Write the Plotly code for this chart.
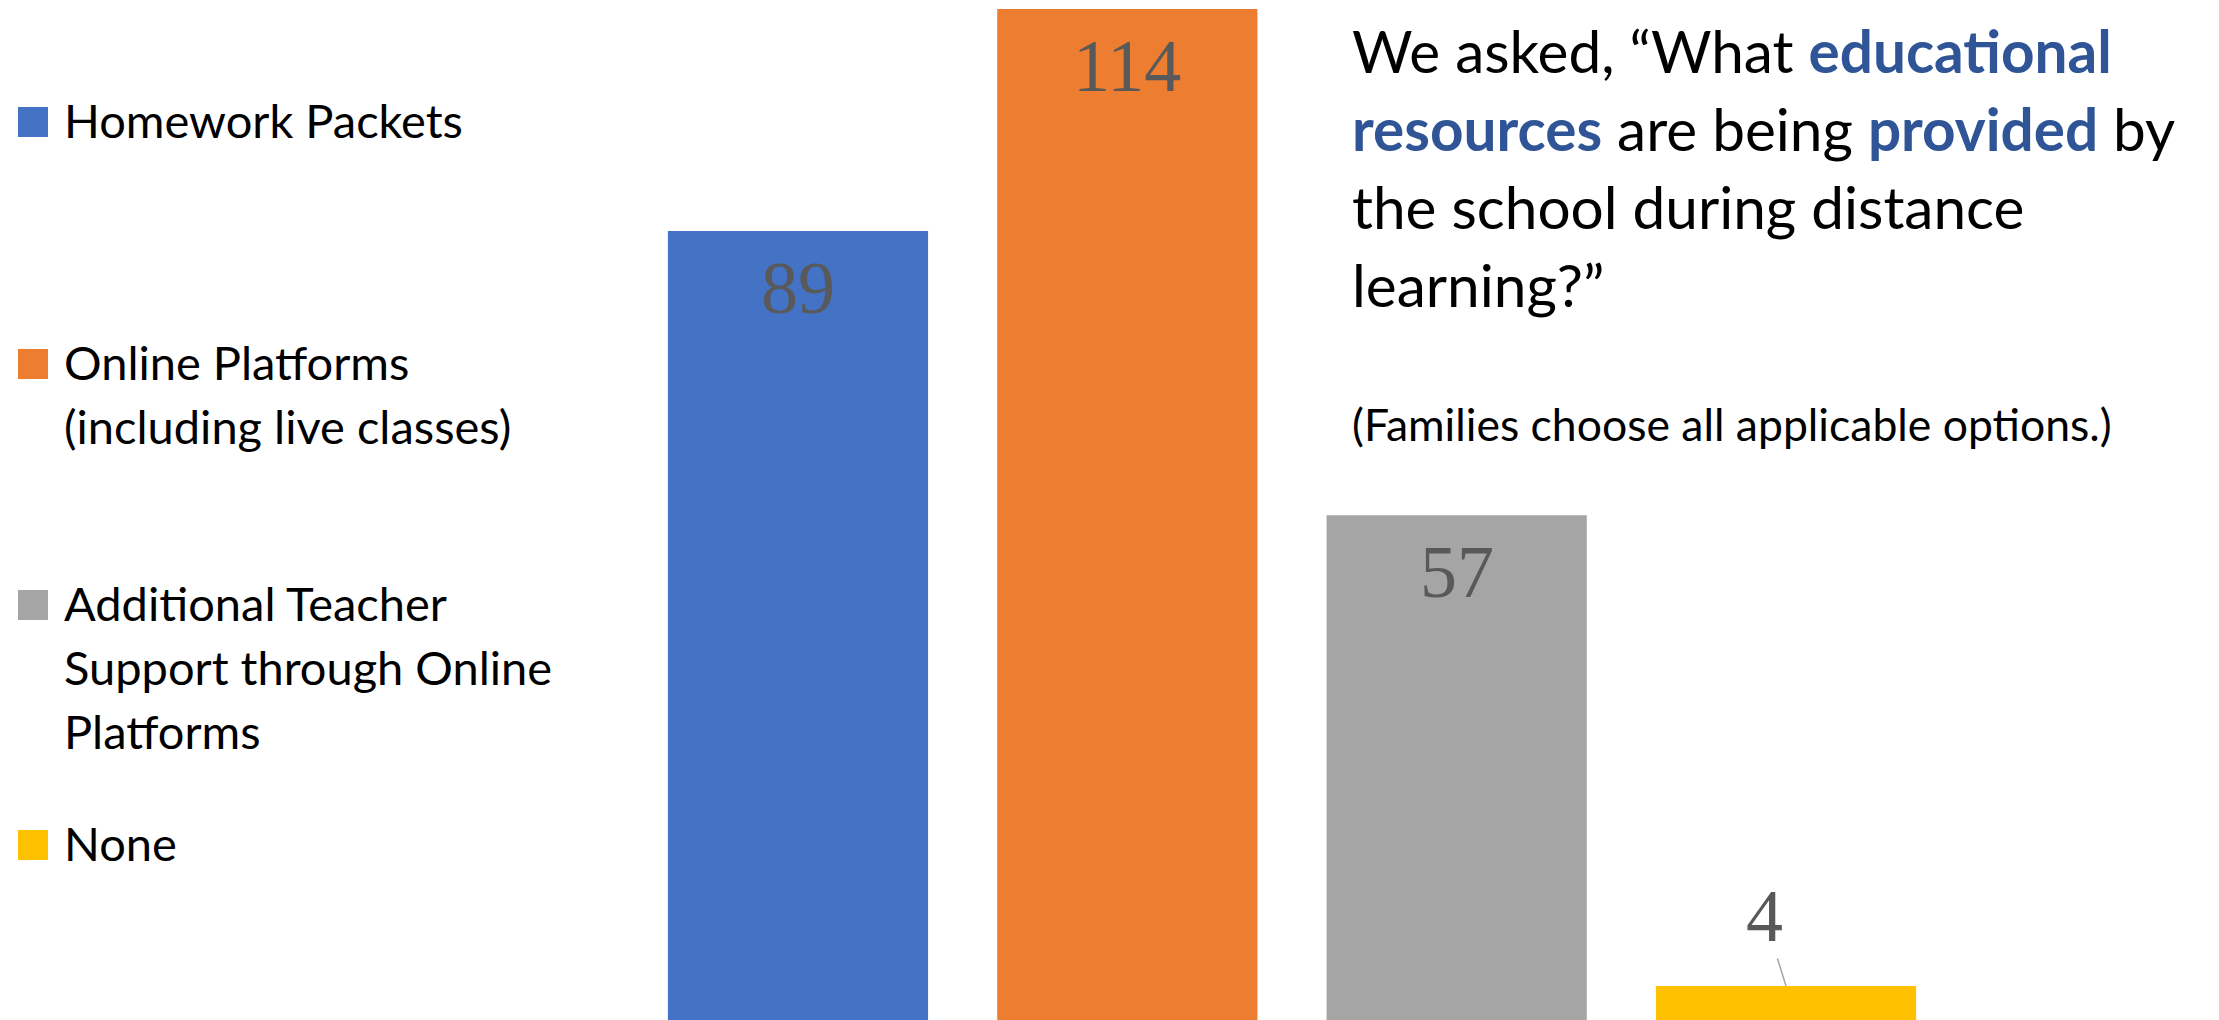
import plotly.graph_objects as go

# Survey answers: number of families selecting each resource type
categories = [
    "Homework Packets",
    "Online Platforms<br>(including live classes)",
    "Additional Teacher<br>Support through Online<br>Platforms",
    "None",
]
counts = [89, 114, 57, 4]
colors = ["#4472C4", "#ED7D31", "#A5A5A5", "#FFC000"]

question_lines = [
    'We asked, “What <span style="color:#2F5597"><b>educational</b></span>',
    '<span style="color:#2F5597"><b>resources</b></span> are being '
    '<span style="color:#2F5597"><b>provided</b></span> by',
    "the school during distance",
    "learning?”",
]
note = "(Families choose all applicable options.)"

W, H = 2219, 1020
TEXT_FONT = "Lato, Carlito, Calibri, sans-serif"
NUM_FONT = "Liberation Serif, Times New Roman, serif"

short_names = [c.split("<br>")[0] for c in categories]

fig = go.Figure()
fig.add_trace(
    go.Bar(
        x=short_names,
        y=counts,
        marker=dict(color=colors, line=dict(width=0)),
        showlegend=False,
        hoverinfo="x+y",
    )
)

annotations = []

# value labels: inside the top of tall bars, above (with a leader) for short ones
for name, v in zip(short_names, counts):
    if v >= 20:
        annotations.append(dict(
            x=name, y=v, xref="x", yref="y", text=str(v), showarrow=False,
            yanchor="middle", yshift=-57,
            font=dict(family=NUM_FONT, size=74, color="#595959"),
        ))
    else:
        annotations.append(dict(
            x=name, y=v, xref="x", yref="y", text=str(v), showarrow=True,
            ax=-22, ay=-70, arrowhead=0, arrowwidth=1.5, arrowcolor="#A6A6A6",
            standoff=0, startstandoff=0,
            font=dict(family=NUM_FONT, size=74, color="#595959"),
        ))

# legend on the left: colored squares with wrapped labels
legend_first_line_y = [120, 362, 603, 843]
legend_line_step = 64
shapes = []
for label, col, y0 in zip(categories, colors, legend_first_line_y):
    sq_c = y0 + 2
    shapes.append(dict(
        type="rect", xref="paper", yref="paper",
        x0=18 / W, x1=48 / W, y0=1 - (sq_c + 15) / H, y1=1 - (sq_c - 15) / H,
        fillcolor=col, line=dict(width=0),
    ))
    for i, line in enumerate(label.split("<br>")):
        yc = y0 + i * legend_line_step
        annotations.append(dict(
            x=62 / W, y=1 - yc / H, xref="paper", yref="paper",
            xanchor="left", yanchor="middle", text=line, showarrow=False,
            font=dict(family=TEXT_FONT, size=47, color="#000000"),
        ))

# question text on the right
for i, line in enumerate(question_lines):
    yc = 50 + i * 78
    annotations.append(dict(
        x=1350 / W, y=1 - yc / H, xref="paper", yref="paper",
        xanchor="left", yanchor="middle", text=line, showarrow=False,
        font=dict(family=TEXT_FONT, size=58.5, color="#000000"),
    ))
annotations.append(dict(
    x=1350 / W, y=1 - 423 / H, xref="paper", yref="paper",
    xanchor="left", yanchor="middle", text=note, showarrow=False,
    font=dict(family=TEXT_FONT, size=44.5, color="#000000"),
))

fig.update_layout(
    width=W, height=H,
    margin=dict(l=0, r=0, t=0, b=0),
    paper_bgcolor="white", plot_bgcolor="white",
    bargap=0.21,
    xaxis=dict(domain=[633.3 / W, 1950.7 / W], visible=False),
    yaxis=dict(range=[0.18, 115.0], visible=False),
    annotations=annotations,
    shapes=shapes,
)

fig.write_html("out.html")
